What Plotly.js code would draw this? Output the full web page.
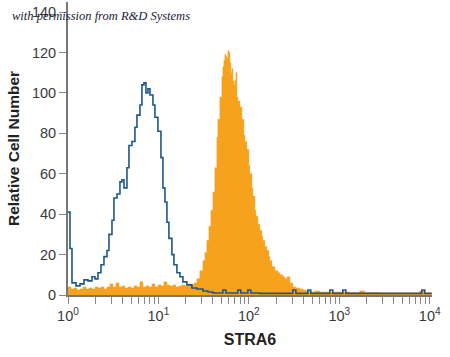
<!DOCTYPE html>
<html>
<head>
<meta charset="utf-8">
<script src="https://cdn.plot.ly/plotly-3.0.1.min.js"></script>
<style>html,body{margin:0;padding:0;background:#fff;}#chart{width:450px;height:357px;}</style>
</head>
<body>
<div id="chart"></div>
<script>
// Isotype control (blue outline) – intensity and cell count
const controlIntensity = [1.00, 1.052, 1.107, 1.226, 1.357, 1.503, 1.664, 1.842, 1.987, 2.145, 2.315, 2.499, 2.698, 2.838, 3.064, 3.223, 3.479, 3.755, 3.952, 4.158, 4.487, 4.721, 5.096, 5.500, 5.787, 6.246, 6.572, 6.916, 7.277, 7.656, 8.056, 8.695, 9.148, 9.874, 10.66, 11.21, 11.80, 12.41, 13.06, 14.10, 14.84, 16.01, 17.29, 18.65, 20.65, 23.45, 26.64, 31.03, 35.24, 40.02, 51.6, 55.7, 75.5, 81.5, 97.5, 105, 132, 306, 331, 449, 484, 785, 847, 1094, 1180, 8166, 8810, 10520];
const controlCount = [41, 23, 6, 4.5, 5.5, 7.5, 7, 9, 8, 11, 15, 19, 22, 30, 37, 48, 50, 56, 57, 53, 63, 74, 76, 83, 89, 94, 104, 105, 100, 102, 99, 94, 88, 81, 68, 53, 46, 36, 28, 20, 15, 11, 9, 6.5, 5, 3.5, 3, 2, 1.5, 1, 2.5, 1, 2.5, 1, 2.5, 1, 0.8, 2.5, 0.8, 2.5, 0.8, 2.5, 0.8, 2.5, 0.8, 2.5, 0.8, 0.8];

// STRA6 antibody (orange filled)
const stra6Intensity = [1.00, 1.079, 1.165, 1.257, 1.357, 1.465, 1.581, 1.706, 1.842, 1.987, 2.145, 2.315, 2.499, 2.697, 2.911, 3.142, 3.392, 3.660, 3.951, 4.264, 4.603, 4.968, 5.362, 5.787, 6.246, 6.742, 7.277, 7.853, 8.477, 9.148, 9.874, 10.66, 11.50, 12.41, 13.40, 14.46, 15.61, 16.85, 18.18, 19.63, 21.18, 22.86, 24.68, 26.64, 28.75, 31.03, 32.65, 34.35, 36.14, 38.03, 40.02, 42.10, 44.30, 45.44, 47.81, 50.31, 51.61, 52.94, 54.30, 55.70, 57.14, 58.61, 60.12, 61.67, 63.26, 64.89, 66.56, 68.28, 70.04, 71.84, 73.70, 75.60, 79.54, 83.69, 88.06, 90.33, 95.04, 100.0, 102.6, 107.9, 110.7, 116.5, 119.5, 125.7, 132.3, 139.2, 142.8, 150.2, 158.1, 166.3, 170.6, 179.6, 193.8, 209.2, 220.0, 237.5, 249.9, 263.0, 283.8, 306.3, 330.6, 366.1, 395.1, 426.5, 472.1, 536.2, 608.9, 785.2, 1013, 1306, 1685, 1913, 2803, 4663, 7755, 8809, 10522];
const stra6Count = [4, 3, 3.5, 2.5, 3, 4, 3, 3.5, 3, 4, 3.5, 4, 3, 4, 5.5, 4, 6, 4, 4.5, 3.5, 4, 3.5, 4.5, 4, 6.5, 4, 4.5, 4, 5.5, 4, 5, 4.5, 6.5, 5, 4.5, 5, 4, 4.5, 5, 4.5, 5.5, 5, 6, 8, 12, 17, 21, 27, 34, 42, 51, 63, 78, 87, 98, 108, 113, 116, 119, 118, 117, 121, 120, 115, 110, 112, 106, 104, 106, 110, 98, 96, 93, 87, 79, 76, 72, 64, 60, 53, 49, 42, 39, 35, 32, 29, 27, 24, 22, 19, 17, 14, 12, 11, 10, 9, 8, 9, 6, 4, 3.5, 3, 2.5, 2, 1.5, 2, 1.5, 1.5, 1.5, 1.2, 2, 1.2, 1, 1, 2, 1, 1];

// Axis ticks
const yTickVals = [0, 20, 40, 60, 80, 100, 120, 140];
const decades = [1, 10, 100, 1000, 10000];
const decadeLabels = ['10<sup>0</sup>', '10<sup>1</sup>', '10<sup>2</sup>', '10<sup>3</sup>', '10<sup>4</sup>'];

const xTickVals = [];
const xTickText = [];
for (let d = 0; d < 4; d++) {
  for (let m = 1; m <= 9; m++) {
    xTickVals.push(m * decades[d]);
    xTickText.push(m === 1 ? decadeLabels[d] : '');
  }
}
xTickVals.push(decades[4]);
xTickText.push(decadeLabels[4]);

const baseFont = 'Liberation Sans, Arial, sans-serif';
const tickFont = {family: baseFont, size: 14.5, color: '#3a3a3a'};

const traces = [
  {
    x: stra6Intensity, y: stra6Count, type: 'scatter', mode: 'lines',
    line: {shape: 'hv', color: 'rgb(247,162,28)', width: 0.5},
    fill: 'tozeroy', fillcolor: 'rgb(247,162,28)', hoverinfo: 'skip'
  },
  {
    x: controlIntensity, y: controlCount, type: 'scatter', mode: 'lines',
    line: {shape: 'hv', color: 'rgb(30,88,135)', width: 1.6}, hoverinfo: 'skip'
  }
];

const layout = {
  width: 450, height: 357,
  margin: {l: 68, r: 18, t: 2, b: 62},
  paper_bgcolor: '#fff', plot_bgcolor: '#fff',
  showlegend: false,
  xaxis: {
    type: 'log', range: [0, 4.025],
    tickvals: xTickVals, ticktext: xTickText,
    ticks: 'outside', ticklen: 7, tickwidth: 1, tickcolor: '#888',
    showline: true, linecolor: '#777', linewidth: 2,
    showgrid: false, zeroline: false,
    tickfont: tickFont,
    title: {text: 'STRA6', font: {family: baseFont, size: 16, color: '#222', weight: 'bold'}, standoff: 10}
  },
  yaxis: {
    range: [0, 145],
    tickvals: yTickVals,
    ticks: 'outside', ticklen: 7, tickwidth: 1, tickcolor: '#888',
    showline: true, linecolor: '#777', linewidth: 2,
    showgrid: false, zeroline: false,
    tickfont: tickFont,
    title: {text: 'Relative Cell Number', font: {family: baseFont, size: 15.5, color: '#222', weight: 'bold'}, standoff: 8}
  },
  annotations: [{
    text: 'with permission from R&amp;D Systems',
    xref: 'paper', yref: 'paper', x: -0.16, y: 0.952,
    xanchor: 'left', yanchor: 'middle', showarrow: false,
    font: {family: 'Liberation Serif, DejaVu Serif, serif', size: 12.5, color: '#1a1a33', style: 'italic'}
  }]
};

Plotly.newPlot('chart', traces, layout, {staticPlot: true, displayModeBar: false});
</script>
</body>
</html>
